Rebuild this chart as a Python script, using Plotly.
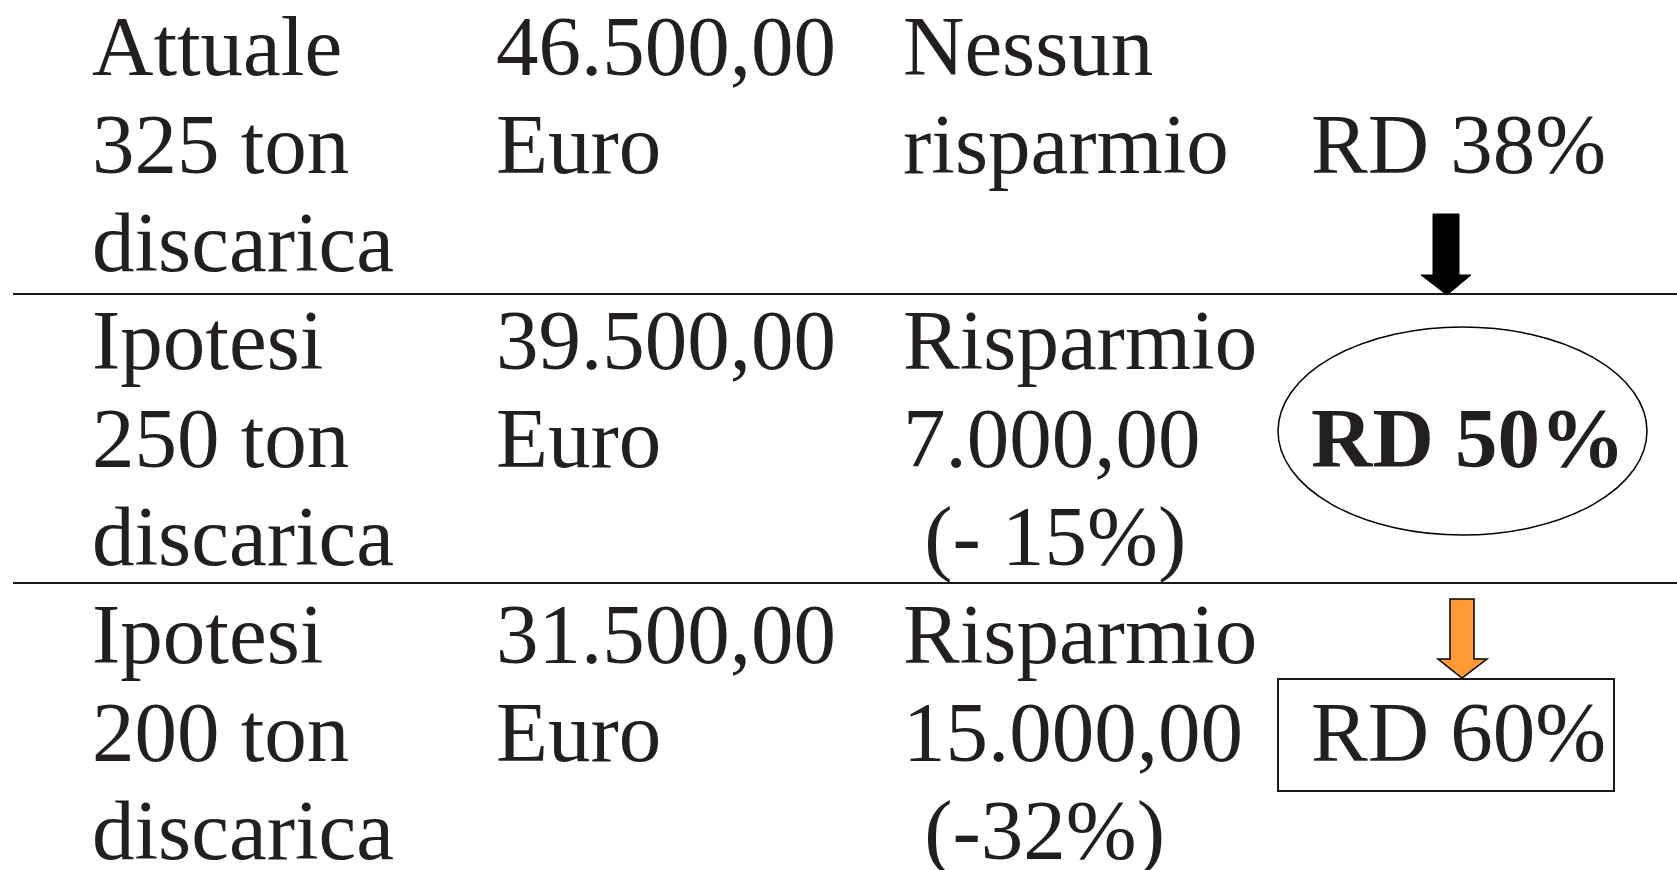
"""
Slide-style table: landfill tonnage, cost and savings per separate-collection (RD) scenario.
"""

import plotly.graph_objects as go

# ── Data ─────────────────────────────────────────────────────────────────────
scenario_lines = [
    ["Attuale", "325 ton", "discarica"],
    ["Ipotesi", "250 ton", "discarica"],
    ["Ipotesi", "200 ton", "discarica"],
]
cost_lines = [
    ["46.500,00", "Euro"],
    ["39.500,00", "Euro"],
    ["31.500,00", "Euro"],
]
saving_lines = [
    ["Nessun", "risparmio"],
    ["Risparmio", "7.000,00", "\u00a0(- 15%)"],
    ["Risparmio", "15.000,00", "\u00a0(-32%)"],
]
rd_labels = ["RD 38%", "RD 50%", "RD 60%"]

# ── Layout constants (pixels) ────────────────────────────────────────────────
W, H = 1677, 870
FONT = "Liberation Serif, Times New Roman, serif"
FS = 85
TEXT_COLOR = "#231f20"
COL_X = [92, 496, 903, 1311]
FIRST_BASELINE = 75
ROW_STEP = 294
LINE_STEP = 98
BASE_TO_MID = 29  # baseline minus centre of annotation box


def baseline(row, line):
    return FIRST_BASELINE + row * ROW_STEP + line * LINE_STEP


def add_text(fig, text, x, y_base, bold=False):
    fig.add_annotation(
        x=x,
        y=y_base - BASE_TO_MID,
        xref="x",
        yref="y",
        text=f"<b>{text}</b>" if bold else text,
        showarrow=False,
        xanchor="left",
        yanchor="middle",
        borderpad=0,
        borderwidth=0,
        font=dict(family=FONT, size=FS, color=TEXT_COLOR),
    )


def build_figure() -> go.Figure:
    fig = go.Figure()

    # ── Table text ───────────────────────────────────────────────────────────
    for r in range(3):
        for i, txt in enumerate(scenario_lines[r]):
            add_text(fig, txt, COL_X[0], baseline(r, i))
        for i, txt in enumerate(cost_lines[r]):
            add_text(fig, txt, COL_X[1], baseline(r, i))
        for i, txt in enumerate(saving_lines[r]):
            add_text(fig, txt, COL_X[2], baseline(r, i))
        add_text(fig, rd_labels[r], COL_X[3], baseline(r, 1), bold=(r == 1))

    # ── Row separators ───────────────────────────────────────────────────────
    for y in (294, 583):
        fig.add_shape(type="line", x0=13, x1=W, y0=y, y1=y,
                      line=dict(color="#1a1a1a", width=2))

    # ── Arrows, ellipse and box around the RD column ─────────────────────────
    fig.add_shape(
        type="path",
        path="M 1433,214 L 1459,214 L 1459,275 L 1471,275 L 1447,295 L 1421,275 L 1433,275 Z",
        fillcolor="black",
        line=dict(color="black", width=1),
    )
    fig.add_shape(
        type="path",
        path="M 1450,599 L 1474,599 L 1474,659 L 1487,659 L 1462,678 L 1438,659 L 1450,659 Z",
        fillcolor="#ff9933",
        line=dict(color="black", width=1.5),
    )
    fig.add_shape(type="circle", x0=1278, x1=1647, y0=327, y1=535,
                  line=dict(color="black", width=1.5))
    fig.add_shape(type="rect", x0=1278, x1=1614, y0=679, y1=791,
                  line=dict(color="#1a1a1a", width=2))

    fig.update_xaxes(range=[0, W], visible=False, fixedrange=True)
    fig.update_yaxes(range=[H, 0], visible=False, fixedrange=True)
    fig.update_layout(
        width=W,
        height=H,
        margin=dict(l=0, r=0, t=0, b=0),
        paper_bgcolor="white",
        plot_bgcolor="white",
        showlegend=False,
    )
    return fig


def main() -> None:
    fig = build_figure()
    fig.write_html(
        "out.html",
        config=dict(displayModeBar=False),
        post_script="document.body.style.margin='0';",
    )


if __name__ == "__main__":
    main()
